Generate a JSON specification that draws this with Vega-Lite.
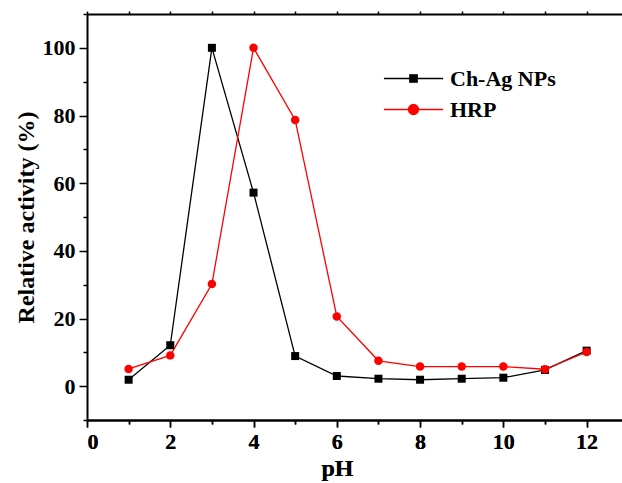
{
  "$schema": "https://vega.github.io/schema/vega-lite/v6.json",
  "width": 535,
  "height": 406,
  "autosize": {"type": "none"},
  "padding": {"left": 87, "top": 14, "right": 0, "bottom": 63},
  "background": "white",
  "config": {
    "view": {"stroke": null},
    "font": "Liberation Serif",
    "axis": {
      "labelFont": "Liberation Serif",
      "labelFontSize": 22,
      "labelFontWeight": "bold",
      "labelColor": "black",
      "labelOverlap": false,
      "titleFont": "Liberation Serif",
      "titleFontSize": 24,
      "titleFontWeight": "bold",
      "titleColor": "black",
      "domainColor": "black",
      "domainWidth": 2,
      "tickColor": "black",
      "tickWidth": 1.5,
      "grid": false
    },
    "axisY": {
      "values": [-10, 0, 10, 20, 30, 40, 50, 60, 70, 80, 90, 100, 110],
      "labelExpr": "(datum.value == 0 || datum.value == 20 || datum.value == 40 || datum.value == 60 || datum.value == 80 || datum.value == 100) ? datum.label : ''",
      "tickSize": {"condition": {"test": "datum.value == 0 || datum.value == 20 || datum.value == 40 || datum.value == 60 || datum.value == 80 || datum.value == 100", "value": 8}, "value": 4},
      "labelPadding": 4,
      "titlePadding": 4
    }
  },
  "data": {
    "values": [
      {"pH": 1, "activity": 1.9, "series": "Ch-Ag NPs"},
      {"pH": 2, "activity": 12.1, "series": "Ch-Ag NPs"},
      {"pH": 3, "activity": 100, "series": "Ch-Ag NPs"},
      {"pH": 4, "activity": 57.2, "series": "Ch-Ag NPs"},
      {"pH": 5, "activity": 8.9, "series": "Ch-Ag NPs"},
      {"pH": 6, "activity": 3.0, "series": "Ch-Ag NPs"},
      {"pH": 7, "activity": 2.2, "series": "Ch-Ag NPs"},
      {"pH": 8, "activity": 1.9, "series": "Ch-Ag NPs"},
      {"pH": 9, "activity": 2.2, "series": "Ch-Ag NPs"},
      {"pH": 10, "activity": 2.5, "series": "Ch-Ag NPs"},
      {"pH": 11, "activity": 4.8, "series": "Ch-Ag NPs"},
      {"pH": 12, "activity": 10.5, "series": "Ch-Ag NPs"},
      {"pH": 1, "activity": 5.1, "series": "HRP"},
      {"pH": 2, "activity": 9.1, "series": "HRP"},
      {"pH": 3, "activity": 30.2, "series": "HRP"},
      {"pH": 4, "activity": 100, "series": "HRP"},
      {"pH": 5, "activity": 78.7, "series": "HRP"},
      {"pH": 6, "activity": 20.6, "series": "HRP"},
      {"pH": 7, "activity": 7.5, "series": "HRP"},
      {"pH": 8, "activity": 5.8, "series": "HRP"},
      {"pH": 9, "activity": 5.8, "series": "HRP"},
      {"pH": 10, "activity": 5.8, "series": "HRP"},
      {"pH": 11, "activity": 5.0, "series": "HRP"},
      {"pH": 12, "activity": 10.1, "series": "HRP"}
    ]
  },
  "layer": [
    {
      "mark": {"type": "line", "strokeWidth": 1.3, "clip": true},
      "encoding": {
        "x": {
          "field": "pH",
          "type": "quantitative",
          "title": "pH",
          "scale": {"domain": [0, 12.85], "nice": false, "zero": false},
          "axis": {
            "orient": "bottom",
            "title": "pH",
            "titleX": 250,
            "titlePadding": 4,
            "values": [0, 1, 2, 3, 4, 5, 6, 7, 8, 9, 10, 11, 12],
            "labelExpr": "datum.value % 2 == 0 ? datum.label : ''",
            "tickSize": {"condition": {"test": "datum.value % 2 == 0", "value": 7}, "value": 4},
            "labelPadding": 4
          }
        },
        "y": {
          "field": "activity",
          "type": "quantitative",
          "title": "Relative activity (%)",
          "scale": {"domain": [-10, 110], "nice": false, "zero": false}
        },
        "color": {
          "field": "series",
          "type": "nominal",
          "scale": {"domain": ["Ch-Ag NPs", "HRP"], "range": ["#000000", "#ff0000"]},
          "legend": {
            "orient": "none",
            "legendX": 307,
            "legendY": 45,
            "title": null,
            "labelFont": "Liberation Serif",
            "labelFontSize": 22,
            "labelFontWeight": "bold",
            "labelColor": "black",
            "labelOffset": 17,
            "symbolSize": 1369,
            "symbolStrokeWidth": 1.3,
            "rowPadding": -16,
            "encode": {
              "symbols": {
                "update": {
                  "shape": {"signal": "datum.value == 'HRP' ? 'M-1.6,0H1.6M0.27,0A0.27,0.27,0,1,1,-0.27,0A0.27,0.27,0,1,1,0.27,0Z' : 'M-1.6,0H1.6M-0.2,-0.2H0.2V0.2H-0.2Z'"},
                  "fill": {"signal": "datum.value == 'HRP' ? '#ff0000' : '#000000'"},
                  "stroke": {"signal": "datum.value == 'HRP' ? '#ff0000' : '#000000'"},
                  "opacity": {"value": 1},
                  "fillOpacity": {"value": 1}
                }
              }
            }
          }
        }
      }
    },
    {
      "transform": [{"filter": "datum.series == 'Ch-Ag NPs'"}],
      "mark": {"type": "point", "shape": "square", "filled": true, "opacity": 1, "size": 64, "color": "#000000"},
      "encoding": {
        "x": {
          "field": "pH",
          "type": "quantitative",
          "title": "pH",
          "axis": {
            "orient": "top",
            "title": null,
            "labels": false,
            "values": [0, 1, 2, 3, 4, 5, 6, 7, 8, 9, 10, 11, 12],
            "tickSize": 3
          }
        },
        "y": {"field": "activity", "type": "quantitative", "title": "Relative activity (%)"}
      }
    },
    {
      "transform": [{"filter": "datum.series == 'HRP'"}],
      "mark": {"type": "point", "shape": "circle", "filled": true, "opacity": 1, "size": 72, "color": "#ff0000"},
      "encoding": {
        "x": {
          "field": "pH",
          "type": "quantitative",
          "title": "pH",
          "axis": {
            "orient": "bottom",
            "title": "pH",
            "titleX": 250,
            "titlePadding": 4,
            "values": [0, 1, 2, 3, 4, 5, 6, 7, 8, 9, 10, 11, 12],
            "labelExpr": "datum.value % 2 == 0 ? datum.label : ''",
            "tickSize": {"condition": {"test": "datum.value % 2 == 0", "value": 7}, "value": 4},
            "labelPadding": 4
          }
        },
        "y": {"field": "activity", "type": "quantitative", "title": "Relative activity (%)"}
      }
    }
  ]
}
